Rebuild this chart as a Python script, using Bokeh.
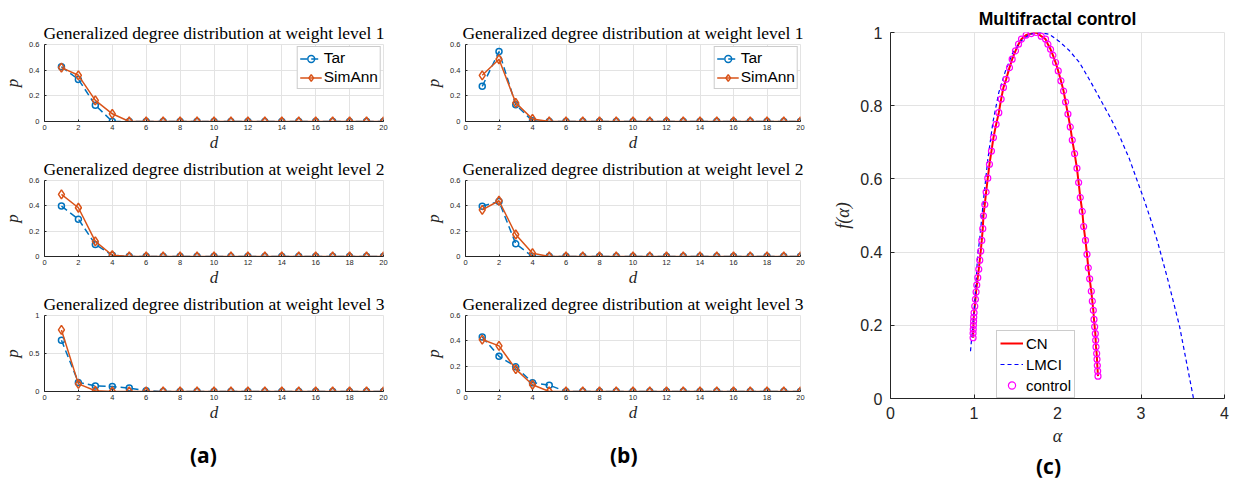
from bokeh.plotting import figure
from bokeh.layouts import row, column
from bokeh.models import FixedTicker, CustomJSTickFormatter, Legend, LegendItem, Div
from bokeh.embed import file_html
from bokeh.resources import INLINE

# ---------------- data ----------------
d = [1, 2, 3, 4, 5, 6, 7, 8, 9, 10, 11, 12, 13, 14, 15, 16, 17, 18, 19, 20]

tar_a1 = [0.427, 0.328, 0.127, 0.0, 0.0, 0.0, 0.0, 0.0, 0.0, 0.0, 0.0, 0.0, 0.0, 0.0, 0.0, 0.0, 0.0, 0.0, 0.0, 0.0]
sim_a1 = [0.420, 0.360, 0.164, 0.060, 0.0, 0.0, 0.0, 0.0, 0.0, 0.0, 0.0, 0.0, 0.0, 0.0, 0.0, 0.0, 0.0, 0.0, 0.0, 0.0]
tar_a2 = [0.398, 0.295, 0.095, 0.010, 0.0, 0.0, 0.0, 0.0, 0.0, 0.0, 0.0, 0.0, 0.0, 0.0, 0.0, 0.0, 0.0, 0.0, 0.0, 0.0]
sim_a2 = [0.490, 0.385, 0.120, 0.010, 0.0, 0.0, 0.0, 0.0, 0.0, 0.0, 0.0, 0.0, 0.0, 0.0, 0.0, 0.0, 0.0, 0.0, 0.0, 0.0]
tar_a3 = [0.674, 0.120, 0.074, 0.065, 0.045, 0.010, 0.0, 0.0, 0.0, 0.0, 0.0, 0.0, 0.0, 0.0, 0.0, 0.0, 0.0, 0.0, 0.0, 0.0]
sim_a3 = [0.810, 0.100, 0.010, 0.0, 0.0, 0.0, 0.0, 0.0, 0.0, 0.0, 0.0, 0.0, 0.0, 0.0, 0.0, 0.0, 0.0, 0.0, 0.0, 0.0]

tar_b1 = [0.274, 0.545, 0.130, 0.005, 0.0, 0.0, 0.0, 0.0, 0.0, 0.0, 0.0, 0.0, 0.0, 0.0, 0.0, 0.0, 0.0, 0.0, 0.0, 0.0]
sim_b1 = [0.360, 0.485, 0.145, 0.020, 0.0, 0.0, 0.0, 0.0, 0.0, 0.0, 0.0, 0.0, 0.0, 0.0, 0.0, 0.0, 0.0, 0.0, 0.0, 0.0]
tar_b2 = [0.397, 0.434, 0.100, 0.0, 0.0, 0.0, 0.0, 0.0, 0.0, 0.0, 0.0, 0.0, 0.0, 0.0, 0.0, 0.0, 0.0, 0.0, 0.0, 0.0]
sim_b2 = [0.368, 0.440, 0.174, 0.026, 0.0, 0.0, 0.0, 0.0, 0.0, 0.0, 0.0, 0.0, 0.0, 0.0, 0.0, 0.0, 0.0, 0.0, 0.0, 0.0]
tar_b3 = [0.430, 0.278, 0.195, 0.070, 0.050, 0.0, 0.0, 0.0, 0.0, 0.0, 0.0, 0.0, 0.0, 0.0, 0.0, 0.0, 0.0, 0.0, 0.0, 0.0]
sim_b3 = [0.410, 0.360, 0.177, 0.053, 0.0, 0.0, 0.0, 0.0, 0.0, 0.0, 0.0, 0.0, 0.0, 0.0, 0.0, 0.0, 0.0, 0.0, 0.0, 0.0]

d_ticks = [0, 2, 4, 6, 8, 10, 12, 14, 16, 18, 20]
p_ticks_06 = [0, 0.2, 0.4, 0.6]
p_ticks_1 = [0, 0.5, 1]

# multifractal spectra (panel c)
alpha_cn = [0.989, 0.989, 0.991, 0.993, 0.995, 0.997, 1.001, 1.009, 1.017, 1.025, 1.033, 1.045,
            1.057, 1.069, 1.081, 1.093, 1.105, 1.113, 1.129, 1.145, 1.165, 1.185, 1.209, 1.233,
            1.265, 1.297, 1.325, 1.353, 1.385, 1.425, 1.457, 1.497, 1.533, 1.569, 1.625, 1.685,
            1.745, 1.805, 1.857, 1.885, 1.917, 1.945, 1.977, 2.009, 2.041, 2.073, 2.097, 2.125,
            2.153, 2.177, 2.205, 2.233, 2.253, 2.273, 2.297, 2.313, 2.335, 2.353, 2.369, 2.385,
            2.405, 2.417, 2.429, 2.437, 2.445, 2.453, 2.457, 2.461, 2.469, 2.473, 2.477, 2.481, 2.485]
f_cn = [0.166, 0.178, 0.189, 0.200, 0.211, 0.222, 0.234, 0.252, 0.271, 0.291, 0.310, 0.330,
        0.353, 0.378, 0.403, 0.432, 0.464, 0.499, 0.530, 0.564, 0.602, 0.640, 0.676, 0.713,
        0.749, 0.781, 0.818, 0.850, 0.872, 0.904, 0.927, 0.950, 0.968, 0.982, 0.993, 0.997,
        1.000, 0.990, 0.982, 0.968, 0.954, 0.938, 0.918, 0.895, 0.868, 0.840, 0.810, 0.777,
        0.742, 0.706, 0.669, 0.629, 0.590, 0.549, 0.511, 0.470, 0.432, 0.394, 0.357, 0.327,
        0.293, 0.266, 0.241, 0.216, 0.196, 0.177, 0.159, 0.141, 0.123, 0.107, 0.090, 0.075, 0.061]

alpha_lmci = [0.958, 1.006, 1.046, 1.066, 1.114, 1.166, 1.226, 1.297, 1.377, 1.465, 1.565, 1.665,
              1.785, 1.904, 2.025, 2.144, 2.263, 2.403, 2.523, 2.643, 2.743, 2.862, 2.942, 3.042,
              3.122, 3.201, 3.321, 3.461, 3.629]
f_lmci = [0.129, 0.252, 0.398, 0.430, 0.544, 0.654, 0.754, 0.836, 0.895, 0.945, 0.977, 0.995,
          1.000, 0.995, 0.975, 0.950, 0.918, 0.863, 0.813, 0.763, 0.717, 0.654, 0.603, 0.540,
          0.485, 0.426, 0.325, 0.198, 0.000]

alpha_ticks = [0, 1, 2, 3, 4]
f_ticks = [0, 0.2, 0.4, 0.6, 0.8, 1]

# ---------------- style ----------------
BLUE = "#0072BD"
ORANGE = "#D95319"
AX = "#262626"
GRID = "#e3e3e3"
SERIF = "Liberation Serif"
SANS = "Liberation Sans"

fmt_code = "return String(tick)"


def style_axes(p, xt, yt, tick_size, tick_in, lab_size, x_stand, y_stand, xl_stand, yl_stand):
    p.xaxis.ticker = FixedTicker(ticks=xt)
    p.yaxis.ticker = FixedTicker(ticks=yt)
    p.xgrid.ticker = FixedTicker(ticks=xt)
    p.ygrid.ticker = FixedTicker(ticks=yt)
    for ax in (p.xaxis, p.yaxis):
        ax.formatter = CustomJSTickFormatter(code=fmt_code)
        ax.axis_line_color = AX
        ax.axis_line_width = 1
        ax.major_tick_line_color = AX
        ax.major_tick_in = tick_in
        ax.major_tick_out = 0
        ax.minor_tick_line_color = None
        ax.major_label_text_font = SANS
        ax.major_label_text_font_size = tick_size
        ax.major_label_text_color = AX
        ax.axis_label_text_font = SERIF
        ax.axis_label_text_font_style = "italic"
        ax.axis_label_text_font_size = lab_size
        ax.axis_label_text_color = AX
    p.xaxis.major_label_standoff = x_stand
    p.yaxis.major_label_standoff = y_stand
    p.xaxis.axis_label_standoff = xl_stand
    p.yaxis.axis_label_standoff = yl_stand
    p.xgrid.grid_line_color = GRID
    p.ygrid.grid_line_color = GRID
    p.outline_line_color = GRID
    p.background_fill_color = "white"
    p.border_fill_color = "white"


def small_panel(tar, sim, yt, level, legend, left, right, fw, top, fh, bottom):
    p = figure(frame_width=fw, frame_height=fh, x_range=(0, 20), y_range=(yt[0], yt[-1]),
               output_backend="svg", toolbar_location=None,
               min_border_left=left, min_border_right=right,
               min_border_top=top, min_border_bottom=bottom,
               title="Generalized degree distribution at weight level %d" % level)
    p.title.text_font = SERIF
    p.title.text_font_size = "17.5px"
    p.title.text_font_style = "normal"
    p.title.text_color = "black"
    p.title.align = "center"
    p.title.standoff = 4
    style_axes(p, d_ticks, yt, "7.5px", 2, "17px", 3, 5, 0, 4)
    p.xaxis.axis_label = "d"
    p.yaxis.axis_label = "p"

    l1 = p.line(d, tar, line_color=BLUE, line_width=1.5, line_dash="7 4")
    s1 = p.scatter(d, tar, marker="circle", size=6, line_color=BLUE, line_width=1.5, fill_color=None)
    l2 = p.line(d, sim, line_color=ORANGE, line_width=1.5)
    s2 = p.scatter(d, sim, marker="diamond", size=9, line_color=ORANGE, line_width=1.5, fill_color=None)
    if legend:
        lg = Legend(items=[LegendItem(label="Tar", renderers=[l1, s1]),
                           LegendItem(label="SimAnn", renderers=[l2, s2])],
                    location="top_right", margin=2, padding=2, spacing=1,
                    glyph_width=22, glyph_height=17, label_height=17, label_standoff=2,
                    label_text_font=SANS, label_text_font_size="15.5px", label_text_color="black",
                    border_line_color="#9a9a9a", border_line_width=1,
                    background_fill_color="white", background_fill_alpha=1)
        p.add_layout(lg)
    return p


def label_div(txt, w, h, padl, padt):
    html = ('<div style="padding-left:%dpx;padding-top:%dpx;font-family:\'Open Sans\';'
            'font-weight:bold;font-size:21px;line-height:24px;color:black;">%s</div>' % (padl, padt, txt))
    return Div(text=html, width=w, height=h, margin=0)


# column (a)
a1 = small_panel(tar_a1, sim_a1, p_ticks_06, 1, True, 34, 38, 339, 44, 77, 33)
a2 = small_panel(tar_a2, sim_a2, p_ticks_06, 2, False, 34, 38, 339, 25, 76, 33)
a3 = small_panel(tar_a3, sim_a3, p_ticks_1, 3, False, 34, 38, 339, 26, 76, 33)
diva = label_div("(a)", 411, 51, 190, 19)

# column (b)
b1 = small_panel(tar_b1, sim_b1, p_ticks_06, 1, True, 37, 30, 335, 44, 77, 33)
b2 = small_panel(tar_b2, sim_b2, p_ticks_06, 2, False, 37, 30, 335, 25, 76, 33)
b3 = small_panel(tar_b3, sim_b3, p_ticks_06, 3, False, 37, 30, 335, 26, 76, 33)
divb = label_div("(b)", 402, 51, 189, 19)

# panel (c)
pc = figure(frame_width=334, frame_height=366, x_range=(0, 4), y_range=(0, 1),
            output_backend="svg", toolbar_location=None,
            min_border_left=51, min_border_right=6, min_border_top=32, min_border_bottom=50,
            title="Multifractal control")
pc.title.text_font = SANS
pc.title.text_font_size = "17.5px"
pc.title.text_font_style = "bold"
pc.title.text_color = "black"
pc.title.align = "center"
pc.title.standoff = 7
style_axes(pc, alpha_ticks, f_ticks, "16px", 4, "18px", 8, 8, 4, 4)
pc.xaxis.axis_label = "α"
pc.yaxis.axis_label = "f(α)"

r_cn = pc.line(alpha_cn, f_cn, line_color="#FF0000", line_width=2)
r_lm = pc.line(alpha_lmci, f_lmci, line_color="#0000FF", line_width=1.2, line_dash="4 3")
r_ct = pc.scatter(alpha_cn, f_cn, marker="circle", size=6, line_color="#FF00FF", line_width=1.2,
                  fill_color=None)
lgc = Legend(items=[LegendItem(label="CN", renderers=[r_cn]),
                    LegendItem(label="LMCI", renderers=[r_lm]),
                    LegendItem(label="control", renderers=[r_ct])],
             location=(106, 0), margin=0, padding=3, spacing=3,
             glyph_width=23, glyph_height=18, label_height=18, label_standoff=3,
             label_text_font=SANS, label_text_font_size="15px", label_text_color="black",
             border_line_color="#9a9a9a", border_line_width=1,
             background_fill_color="white", background_fill_alpha=1)
pc.add_layout(lgc)
divc = label_div("(c)", 393, 28, 206, 6)

layout = row(column(a1, a2, a3, diva, spacing=0),
             column(b1, b2, b3, divb, spacing=0),
             column(pc, divc, spacing=0), spacing=0)

open("out.html", "w").write(file_html(layout, INLINE))
